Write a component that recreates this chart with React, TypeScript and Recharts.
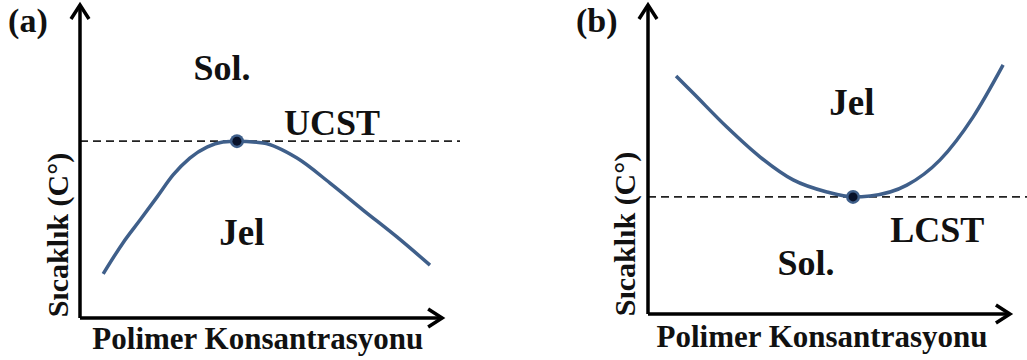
import React from "react";
import { ComposedChart, Line, XAxis, YAxis, ReferenceLine, ReferenceDot } from "recharts";

// panel (a): UCST curve, arbitrary units 0-100
const concA = [6.1, 11.3, 15.8, 20.3, 24.5, 28.9, 33.4, 37.6, 41.3, 48.2, 57.1, 65.8, 74.5, 83.4, 92.1];
const tempA = [14.1, 24.0, 31.3, 38.7, 45.7, 51.1, 54.6, 56.2, 56.5, 55.9, 51.1, 43.1, 34.5, 25.9, 16.9];
const ucstPoint = { conc: 41.3, temp: 56.5 };

// panel (b): LCST curve
const concB = [7.4, 11.9, 20.8, 29.6, 38.3, 47.2, 54.1, 58.6, 68.3, 77.0, 85.8, 93.7];
const tempB = [77.0, 71.5, 60.5, 50.8, 43.4, 39.5, 37.9, 38.2, 41.7, 49.8, 63.8, 80.6];
const lcstPoint = { conc: 54.1, temp: 37.9 };

const xAxisLabel = "Polimer Konsantrasyonu";
const yAxisLabel = "Sıcaklık (C°)";

const FONT = '"Liberation Serif", "DejaVu Serif", "Times New Roman", serif';
const CURVE = "#3f5f8a";

const toRows = (xs: number[], ys: number[]) => xs.map((x, i) => ({ conc: x, temp: ys[i] }));

type Note = { text: string; x: number; y: number; size: number; rotate?: boolean };

const textShape = (n: Note) => (p: any) => (
  <text
    x={p.cx}
    y={p.cy}
    textAnchor="middle"
    dominantBaseline="central"
    style={{ fontFamily: FONT, fontWeight: 700, fontSize: n.size }}
    fill="#111"
    transform={n.rotate ? `rotate(-90 ${p.cx} ${p.cy})` : undefined}
  >
    {n.text}
  </text>
);

const upArrow = (p: any) => (
  <polyline
    points={`${p.cx - 9},${p.cy + 14} ${p.cx},${p.cy} ${p.cx + 9},${p.cy + 14}`}
    fill="none"
    stroke="#000"
    strokeWidth={3.5}
  />
);

const rightArrow = (p: any) => (
  <polyline
    points={`${p.cx - 14},${p.cy - 9} ${p.cx},${p.cy} ${p.cx - 14},${p.cy + 9}`}
    fill="none"
    stroke="#000"
    strokeWidth={3.5}
  />
);

const marker = (p: any) => (
  <g>
    <circle cx={p.cx} cy={p.cy} r={7} fill={CURVE} />
    <circle cx={p.cx} cy={p.cy} r={4.5} fill="#08122a" />
  </g>
);

interface PanelProps {
  left: number;
  width: number;
  margin: { top: number; right: number; bottom: number; left: number };
  data: { conc: number; temp: number }[];
  critical: { conc: number; temp: number };
  arrowX: number;
  notes: Note[];
}

const Panel: React.FC<PanelProps> = ({ left, width, margin, data, critical, arrowX, notes }) => (
  <div style={{ position: "absolute", left, top: 0 }}>
    <ComposedChart width={width} height={360} data={data} margin={margin}>
      <XAxis type="number" dataKey="conc" domain={[0, 100]} hide />
      <YAxis type="number" domain={[0, 100]} hide />
      <ReferenceLine
        segment={[{ x: 0, y: critical.temp }, { x: 100, y: critical.temp }]}
        stroke="#222"
        strokeWidth={1.6}
        strokeDasharray="8 5"
        ifOverflow="visible"
      />
      <ReferenceLine segment={[{ x: 0, y: 0 }, { x: 0, y: 100 }]} stroke="#000" strokeWidth={3.5} ifOverflow="visible" />
      <ReferenceLine segment={[{ x: 0, y: 0 }, { x: arrowX, y: 0 }]} stroke="#000" strokeWidth={3.5} ifOverflow="visible" />
      <ReferenceDot x={0} y={100} r={0} shape={upArrow} ifOverflow="visible" />
      <ReferenceDot x={arrowX} y={0} r={0} shape={rightArrow} ifOverflow="visible" />
      <Line
        type="monotone"
        dataKey="temp"
        stroke={CURVE}
        strokeWidth={3.5}
        dot={false}
        activeDot={false}
        isAnimationActive={false}
      />
      <ReferenceDot x={critical.conc} y={critical.temp} r={5} shape={marker} ifOverflow="visible" />
      {notes.map((n) => (
        <ReferenceDot key={n.text} x={n.x} y={n.y} r={0} shape={textShape(n)} ifOverflow="visible" />
      ))}
    </ComposedChart>
  </div>
);

export default function App() {
  return (
    <div style={{ position: "absolute", left: 0, top: 0, width: 1027, height: 360, background: "#fff" }}>
      <Panel
        left={0}
        width={513}
        margin={{ top: 5, right: 53, bottom: 42, left: 80 }}
        data={toRows(concA, tempA)}
        critical={ucstPoint}
        arrowX={95.3}
        notes={[
          { text: "(a)", x: -13.7, y: 95.2, size: 34 },
          { text: "Sol.", x: 37.4, y: 79.9, size: 36 },
          { text: "UCST", x: 66.3, y: 62.3, size: 36 },
          { text: "Jel", x: 42.6, y: 27.2, size: 37 },
          { text: yAxisLabel, x: -6.05, y: 26.5, size: 30, rotate: true },
          { text: xAxisLabel, x: 46.8, y: -6.4, size: 31 },
        ]}
      />
      <Panel
        left={513}
        width={514}
        margin={{ top: 5, right: 0, bottom: 46, left: 135 }}
        data={toRows(concB, tempB)}
        critical={lcstPoint}
        arrowX={95.5}
        notes={[
          { text: "(b)", x: -13.5, y: 95.1, size: 34 },
          { text: "Jel", x: 53.8, y: 68.3, size: 37 },
          { text: "LCST", x: 76.3, y: 27.2, size: 36 },
          { text: "Sol.", x: 41.7, y: 16.5, size: 36 },
          { text: yAxisLabel, x: -6.07, y: 25.9, size: 30, rotate: true },
          { text: xAxisLabel, x: 45.9, y: -7.4, size: 31 },
        ]}
      />
    </div>
  );
}
